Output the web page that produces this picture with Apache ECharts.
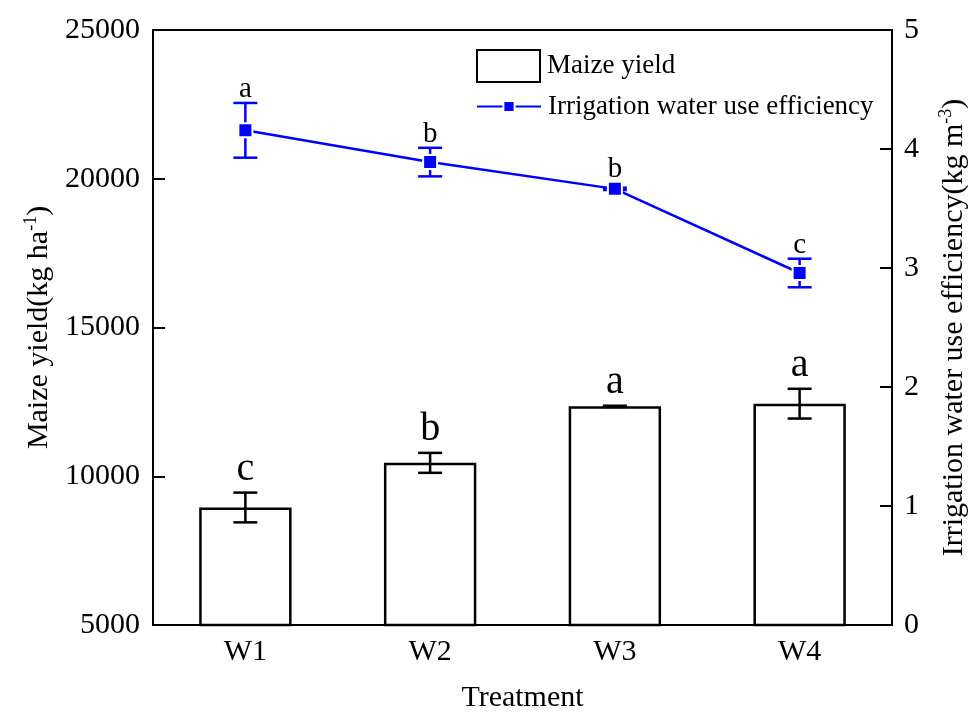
<!DOCTYPE html>
<html>
<head>
<meta charset="utf-8">
<script src="https://cdn.jsdelivr.net/npm/echarts@6/dist/echarts.min.js"></script>
<style>
html,body{margin:0;padding:0;background:#fff;}
#chart{width:977px;height:718px;}
</style>
</head>
<body>
<div id="chart"></div>
<script>
const categories = ['W1', 'W2', 'W3', 'W4'];
const yieldValues = [8950, 10450, 12350, 12440];
const yieldErrors = [500, 335, 20, 500];
const yieldLetters = ['c', 'b', 'a', 'a'];
const iwueValues = [4.157, 3.89, 3.665, 2.958];
const iwueErrors = [0.23, 0.12, 0.01, 0.12];
const iwueLetters = ['a', 'b', 'b', 'c'];
const yieldTicks = [5000, 10000, 15000, 20000, 25000];
const iwueTicks = [0, 1, 2, 3, 4, 5];

const FONT = '"Liberation Serif", "Times New Roman", serif';
const BLUE = '#0000FF';

function errRender(color, capW, letters, letterSize, letterOffset, markerHalf) {
  return function (params, api) {
    const i = api.value(0), v = api.value(1), e = api.value(2);
    const p = api.coord([i, v]);
    const t = api.coord([i, v + e]);
    const b = api.coord([i, v - e]);
    const x = p[0];
    const st = { stroke: color, lineWidth: 2.5 };
    const children = [];
    if (e > 0) {
      children.push({ type: 'line', shape: { x1: x, y1: t[1], x2: x, y2: b[1] }, style: st });
      children.push({ type: 'line', shape: { x1: x - capW / 2, y1: t[1], x2: x + capW / 2, y2: t[1] }, style: st });
      children.push({ type: 'line', shape: { x1: x - capW / 2, y1: b[1], x2: x + capW / 2, y2: b[1] }, style: st });
    }
    const topY = Math.min(t[1], p[1] - markerHalf);
    children.push({
      type: 'text',
      style: {
        text: letters[params.dataIndex], x: x, y: topY + letterOffset,
        align: 'center', verticalAlign: 'bottom',
        fontSize: letterSize, fontFamily: FONT, fill: '#000'
      }
    });
    return { type: 'group', children: children };
  };
}

const chart = echarts.init(document.getElementById('chart'), null, { renderer: 'canvas' });
const option = {
  backgroundColor: '#fff',
  animation: false,
  textStyle: { fontFamily: FONT },
  grid: { left: 153, right: 82, top: 30, bottom: 90, show: true, borderColor: '#000', borderWidth: 2, backgroundColor: 'transparent' },
  legend: [
    {
      data: ['Maize yield'], left: 471, top: 44, itemWidth: 63, itemHeight: 32, icon: 'rect',
      textStyle: { fontSize: 27, fontFamily: FONT, color: '#000', padding: [0, 0, 0, 2] }
    },
    {
      data: ['Irrigation water use efficiency'], left: 471, top: 88, itemWidth: 64, itemHeight: 14,
      textStyle: { fontSize: 27, fontFamily: FONT, color: '#000', padding: [0, 0, 0, 2] }
    }
  ],
  xAxis: {
    type: 'category', data: categories,
    name: 'Treatment', nameLocation: 'middle', nameGap: 58,
    nameTextStyle: { fontSize: 30, fontFamily: FONT, color: '#000' },
    axisLine: { lineStyle: { color: '#000', width: 2 } },
    axisTick: { show: false },
    axisLabel: { fontSize: 30, fontFamily: FONT, color: '#000', margin: 12 }
  },
  yAxis: [
    {
      type: 'value', min: yieldTicks[0], max: yieldTicks[yieldTicks.length - 1], interval: 5000,
      name: '{n|Maize yield(kg ha}{s|-1}{n|)}', nameLocation: 'middle', nameGap: 96, nameRotate: 90,
      nameTextStyle: { rich: { n: { fontSize: 30, fontFamily: FONT, color: '#000', lineHeight: 34 }, s: { fontSize: 18, fontFamily: FONT, color: '#000', verticalAlign: 'top', lineHeight: 18 } } },
      axisLine: { show: true, lineStyle: { color: '#000', width: 2 } },
      axisTick: { show: true, inside: true, length: 12, lineStyle: { color: '#000', width: 2 } },
      axisLabel: { fontSize: 30, fontFamily: FONT, color: '#000', margin: 13, formatter: v => String(v) },
      splitLine: { show: false }
    },
    {
      type: 'value', min: iwueTicks[0], max: iwueTicks[iwueTicks.length - 1], interval: 1,
      name: '{n|Irrigation water use efficiency(kg m}{s|-3}{n|)}', nameLocation: 'middle', nameGap: 45, nameRotate: 90,
      nameTextStyle: { rich: { n: { fontSize: 30, fontFamily: FONT, color: '#000', lineHeight: 34 }, s: { fontSize: 18, fontFamily: FONT, color: '#000', verticalAlign: 'top', lineHeight: 18 } } },
      axisLine: { show: true, lineStyle: { color: '#000', width: 2 } },
      axisTick: { show: true, inside: true, length: 12, lineStyle: { color: '#000', width: 2 } },
      axisLabel: { fontSize: 30, fontFamily: FONT, color: '#000', margin: 12, formatter: v => String(v) },
      splitLine: { show: false }
    }
  ],
  series: [
    {
      name: 'Maize yield', type: 'bar', data: yieldValues, barWidth: '50%', yAxisIndex: 0,
      itemStyle: { color: '#fff', borderColor: '#000', borderWidth: 2.5 }, z: 2
    },
    {
      name: 'yieldErr', type: 'custom', yAxisIndex: 0, z: 3,
      data: categories.map((c, i) => [i, yieldValues[i], yieldErrors[i]]),
      encode: { x: 0, y: 1 },
      renderItem: errRender('#000', 24, yieldLetters, 40, -3, 0)
    },
    {
      name: 'iwueErr', type: 'custom', yAxisIndex: 1, z: 4,
      data: categories.map((c, i) => [i, iwueValues[i], iwueErrors[i]]),
      encode: { x: 0, y: 1 },
      renderItem: errRender(BLUE, 24, iwueLetters, 29, 1, 6)
    },
    {
      name: 'Irrigation water use efficiency', type: 'line', data: iwueValues, yAxisIndex: 1, z: 5,
      symbol: 'rect', symbolSize: 14,
      lineStyle: { color: BLUE, width: 2.5 },
      itemStyle: { color: BLUE, borderColor: '#fff', borderWidth: 2 }
    }
  ]
};
chart.setOption(option);
</script>
</body>
</html>
